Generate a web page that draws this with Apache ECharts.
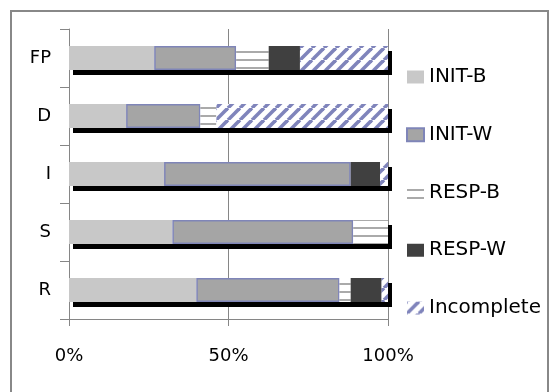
<!DOCTYPE html>
<html>
<head>
<meta charset="utf-8">
<script src="https://cdn.jsdelivr.net/npm/echarts@6/dist/echarts.min.js"></script>
<style>
html,body{margin:0;padding:0;background:#fff;}
#chart{width:550px;height:392px;}
</style>
</head>
<body>
<div id="chart"></div>
<script>
const categories = ['FP', 'D', 'I', 'S', 'R'];
const seriesNames = ['INIT-B', 'INIT-W', 'RESP-B', 'RESP-W', 'Incomplete'];
const initB = [26.7, 17.9, 29.8, 32.4, 39.9];
const initW = [25.7, 23.3, 58.5, 56.7, 44.9];
const respB = [10.2, 5.0, 0, 10.9, 3.5];
const respW = [9.8, 0, 9.2, 0, 9.7];
const incomplete = [27.6, 53.8, 2.5, 0, 2.0];
const xTicks = [0, 50, 100];

const FONT = 'DejaVu Sans';

function makeHatch() {
  const c = document.createElement('canvas');
  c.width = 12; c.height = 12;
  const g = c.getContext('2d');
  g.fillStyle = '#fff'; g.fillRect(0, 0, 12, 12);
  g.strokeStyle = '#7f84bb'; g.lineWidth = 3.6;
  for (let o = -12; o <= 12; o += 12) {
    g.beginPath(); g.moveTo(o, 12); g.lineTo(o + 12, 0); g.stroke();
  }
  return c;
}
function makeLines() {
  const c = document.createElement('canvas');
  c.width = 8; c.height = 8;
  const g = c.getContext('2d');
  g.fillStyle = '#fff'; g.fillRect(0, 0, 8, 8);
  g.fillStyle = '#aaaaaa'; g.fillRect(0, 3, 8, 2);
  return c;
}

const totals = categories.map((_, i) => initB[i] + initW[i] + respB[i] + respW[i] + incomplete[i]);
const BW = 24;

const chart = echarts.init(document.getElementById('chart'), null, {renderer: 'canvas'});
chart.setOption({
  backgroundColor: '#fff',
  animation: false,
  textStyle: {fontFamily: FONT},
  graphic: [{
    type: 'rect', silent: true, z: 0,
    shape: {x: 11, y: 11, width: 537, height: 400},
    style: {fill: null, stroke: '#888', lineWidth: 2}
  }],
  grid: {left: 69, right: 162, top: 29, bottom: 73, containLabel: false},
  legend: {
    data: seriesNames,
    orient: 'vertical',
    left: 406, top: 67,
    padding: 0,
    itemWidth: 17, itemHeight: 13,
    itemGap: 37.75,
    icon: 'rect',
    textStyle: {fontFamily: FONT, fontSize: 20, color: '#000'}
  },
  xAxis: {
    type: 'value', min: 0, max: 100, interval: 50,
    axisLine: {show: true, lineStyle: {color: '#868686', width: 1}},
    axisTick: {show: true, length: 7, lineStyle: {color: '#868686'}},
    splitLine: {show: true, lineStyle: {color: '#868686', width: 1}},
    axisLabel: {
      margin: 28, fontSize: 18, color: '#000', fontFamily: FONT,
      formatter: v => xTicks.includes(v) ? v + '%' : ''
    }
  },
  yAxis: {
    type: 'category', data: categories, inverse: true,
    axisLine: {show: true, lineStyle: {color: '#868686', width: 1}},
    axisTick: {show: true, length: 9, lineStyle: {color: '#868686'}},
    axisLabel: {margin: 18, fontSize: 18, color: '#000', fontFamily: FONT}
  },
  series: [
    {
      name: 'shadow', type: 'bar', data: totals, barWidth: BW, barGap: '-100%',
      silent: true,
      itemStyle: {color: '#fff', shadowColor: '#000', shadowBlur: 0, shadowOffsetX: 4, shadowOffsetY: 5}
    },
    {name: 'INIT-B', type: 'bar', stack: 'a', data: initB, barWidth: BW, barGap: '-100%',
      itemStyle: {color: '#c8c8c8'}},
    {name: 'INIT-W', type: 'bar', stack: 'a', data: initW, barWidth: BW, barGap: '-100%',
      itemStyle: {color: '#a5a5a5', borderColor: '#7f85b8', borderWidth: 1.5}},
    {name: 'RESP-B', type: 'bar', stack: 'a', data: respB, barWidth: BW, barGap: '-100%',
      itemStyle: {color: {image: makeLines(), repeat: 'repeat'}}},
    {name: 'RESP-W', type: 'bar', stack: 'a', data: respW, barWidth: BW, barGap: '-100%',
      itemStyle: {color: '#404040'}},
    {name: 'Incomplete', type: 'bar', stack: 'a', data: incomplete, barWidth: BW, barGap: '-100%',
      itemStyle: {color: {image: makeHatch(), repeat: 'repeat'}}}
  ]
});
</script>
</body>
</html>
